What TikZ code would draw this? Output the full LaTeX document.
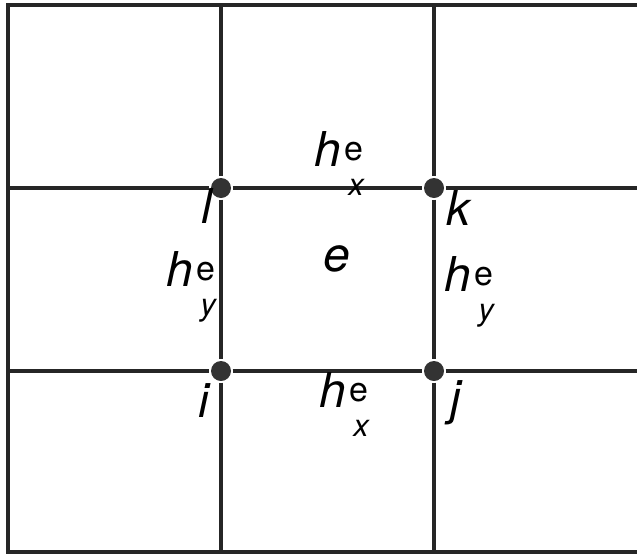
\documentclass[tikz,border=0pt]{standalone}
\usepackage{fontspec}
\setmainfont{TeX Gyre Heros}
\newcommand{\supsize}{\fontsize{17}{18}\selectfont}
\newcommand{\subsize}{\fontsize{15.5}{16}\selectfont}
\newcommand{\hlab}[1]{\textit{h}\hspace{1.5pt}\rlap{\raisebox{3pt}{\supsize\upshape e}}\raisebox{-14.5pt}{\hspace{2pt}\subsize\itshape #1}}

\begin{document}
\begin{tikzpicture}[x=0.5pt, y=0.5pt, line width=1.7pt, draw=black!85,
	every node/.style={inner sep=0pt, anchor=base west, font=\fontsize{24}{28}\selectfont\itshape},
	dot/.style={circle, fill=black!80, minimum size=10pt, anchor=center}]
	\useasboundingbox (0,0) rectangle (637,554);
	% Nodi della cella e
	\node[dot] (i) at (221,183) {};
	\node[dot] (j) at (434,183) {};
	\node[dot] (k) at (434,366) {};
	\node[dot] (l) at (221,366) {};
	
	% Estremi delle linee della griglia
	\coordinate (tl) at (8,549);
	\coordinate (tr) at (637,549);
	\coordinate (bl) at (8,2);
	\coordinate (br) at (637,2);
	\coordinate (t1) at (221,549);
	\coordinate (t2) at (434,549);
	\coordinate (b1) at (221,2);
	\coordinate (b2) at (434,2);
	\coordinate (u1) at (8,366);
	\coordinate (u2) at (637,366);
	\coordinate (d1) at (8,183);
	\coordinate (d2) at (637,183);
	
	% Griglia
	\draw (tr) -- (tl) -- (bl) -- (br);
	\draw (t1) -- (l) -- (i) -- (b1);
	\draw (t2) -- (k) -- (j) -- (b2);
	\draw (u1) -- (l) -- (k) -- (u2);
	\draw (d1) -- (i) -- (j) -- (d2);
	
	% Etichette
	\node (il) at (197,137) {i};
	\node (jl) at (449,140) {j};
	\node (kl) at (445,329) {k};
	\node (ll) at (200,331) {l};
	\node (el) at (322,283) {e};
	\node (hxt) at (313,388) {\hlab{x}};
	\node (hxb) at (318,147) {\hlab{x}};
	\node (hyl) at (165,268) {\hlab{y}};
	\node (hyr) at (443,263) {\hlab{y}};
\end{tikzpicture}
\end{document}
